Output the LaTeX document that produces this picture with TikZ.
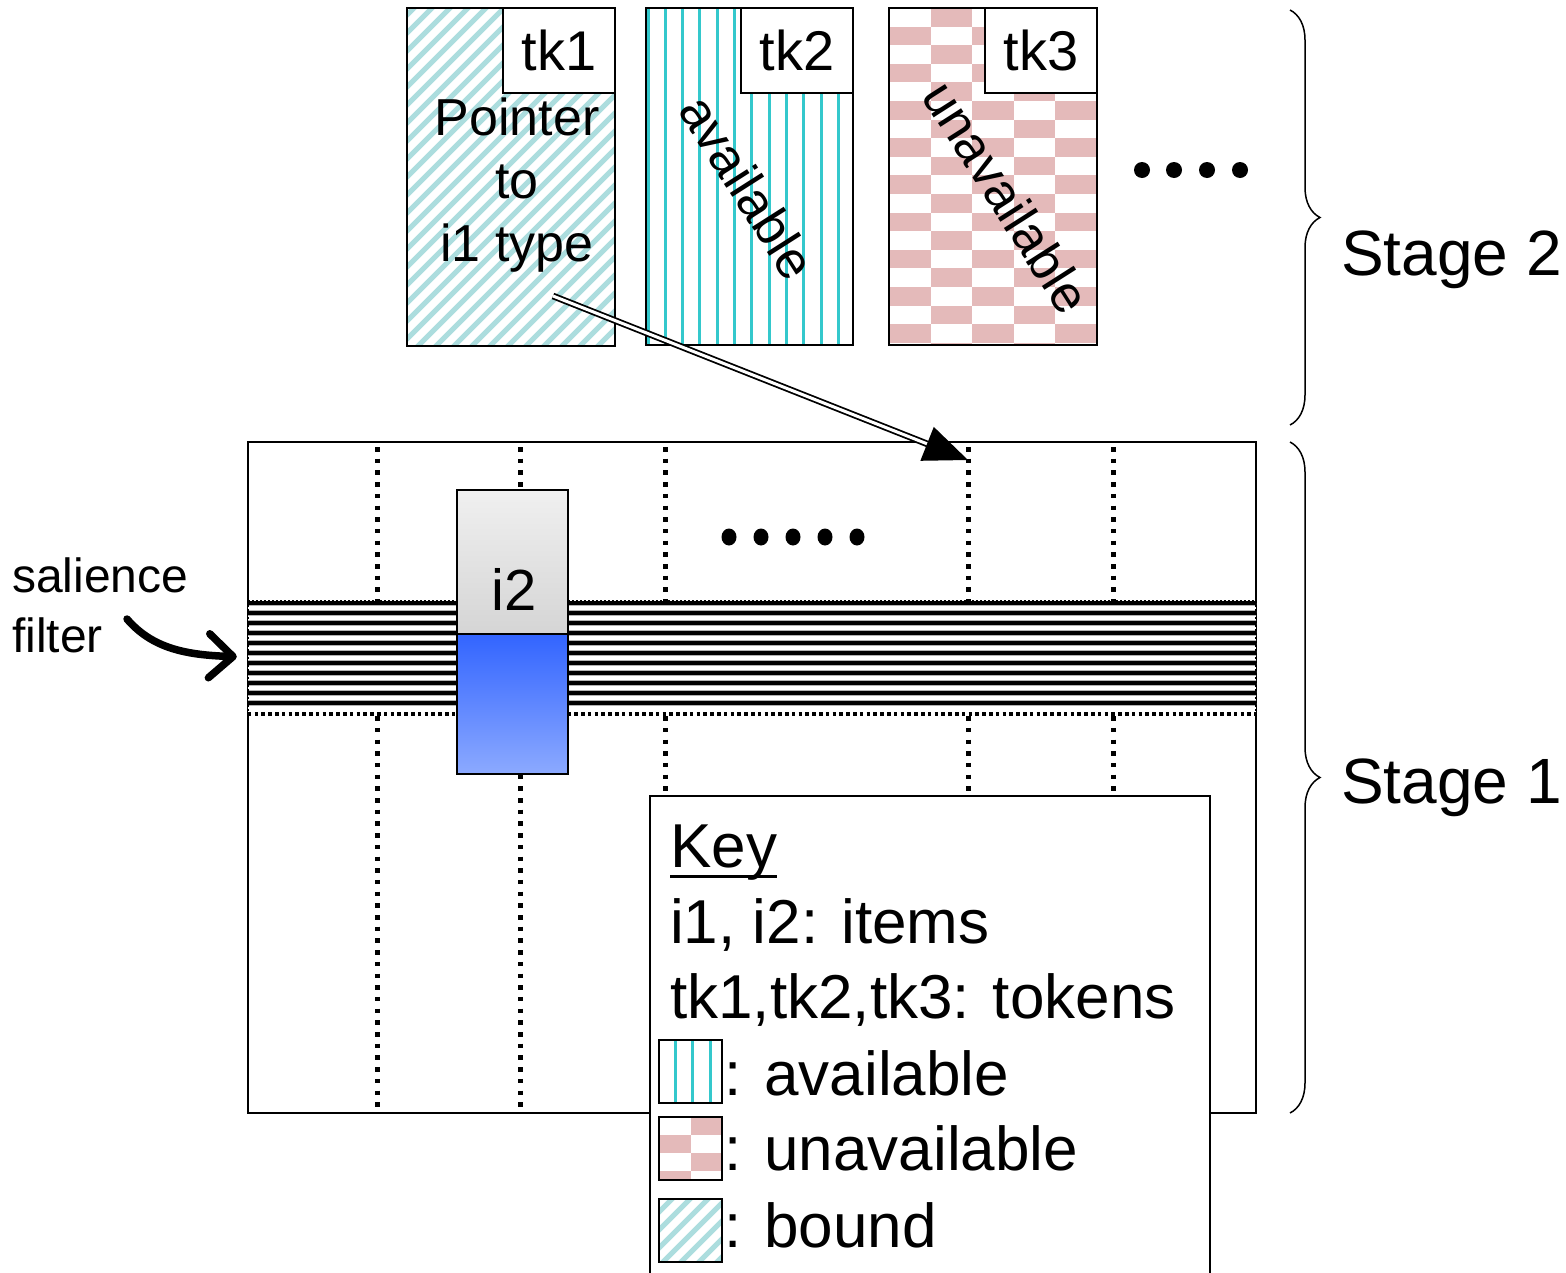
\documentclass[tikz,border=0pt]{standalone}
\usepackage{fontspec}
\setmainfont{Liberation Sans}
\usetikzlibrary{arrows.meta, positioning, decorations.pathreplacing}
\definecolor{boundcol}{RGB}{172,221,222}
\definecolor{availcol}{RGB}{52,200,204}
\definecolor{unavailcol}{RGB}{228,186,186}
\definecolor{itemblue}{RGB}{50,100,255}
\definecolor{itemlight}{RGB}{140,170,255}
\tikzstyle{card} = [rectangle, draw=black, line width=2pt,
minimum width=208pt,
minimum height=337pt,
inner sep=0pt]
\tikzstyle{tag} = [rectangle, draw=black, fill=white, line width=2pt,
minimum width=112pt,
minimum height=85pt,
anchor=north east,
font=\fontsize{56}{60}\selectfont]
\tikzstyle{swatch} = [rectangle, draw=black, line width=1.5pt,
minimum size=63pt, inner sep=0pt]
\tikzstyle{keytext} = [anchor=base west, inner sep=0pt,
font=\fontsize{62}{75}\selectfont]
\tikzstyle{stagetext} = [anchor=base west, inner sep=0pt,
font=\fontsize{64}{70}\selectfont]
\tikzstyle{column} = [line width=5pt, dash pattern=on 4.5pt off 7.2pt]
\tikzstyle{stagebrace} = [decorate, decoration={brace, amplitude=30pt}, line width=1.5pt]
\tikzstyle{pointer} = [double, double distance=3pt, line width=1.8pt,
-{Triangle[length=44pt, width=36pt]}]
\tikzstyle{salarrow} = [line width=7.5pt, line cap=round, shorten >=11pt,
-{Straight Barb[length=24pt, width=44pt, round]}]
% path pictures are drawn round the node centre
\tikzstyle{boundfill} = [path picture={
    \foreach \i in {-640,-622,...,320}
      \draw[boundcol, line width=5pt] (\i,320) -- ++(640,-640);}]
\tikzstyle{availfill} = [path picture={
    \foreach \i in {-101.5,-84.2,...,120}
      \draw[availcol, line width=3pt] (\i,-300) -- (\i,300);}]
\tikzset{unavailfill/.style n args={4}{path picture={
    \foreach \r in {0,...,19}
      \foreach \c in {0,2,4}
        \fill[unavailcol] ({#3+(\c+mod(\r+1,2))*#1},{#4+\r*#2}) rectangle ++(#1,#2);}}}
\tikzstyle{filterfill} = [path picture={
    \foreach \j in {-54,-44,...,50} {
      \draw[gray!60, line width=6.5pt] (-520,\j) -- (520,\j);
      \draw[black, line width=3.8pt] (-520,\j) -- (520,\j);}}]

\begin{document}
\begin{tikzpicture}[x=1pt, y=-1pt]
\useasboundingbox (0,0) rectangle (1566,1272);

% stage 1: item store
\node (store) [rectangle, draw=black, line width=2pt, minimum width=1008pt, minimum height=671pt, inner sep=0pt] at (752,777.5) {};
\foreach \x in {377,520,665,968,1113}
  \draw[column] (\x,447) -- (\x,1110);
\node (filter) [rectangle, fill=white, filterfill, minimum width=1008pt, minimum height=112pt, inner sep=0pt] at (752,657) {};
\draw[line width=1.4pt, dash pattern=on 2pt off 2pt] (filter.north west) -- (filter.north east);
\draw[line width=1.4pt, dash pattern=on 2pt off 2pt] (filter.north west) -- (filter.south west);
\draw[line width=2.5pt, dash pattern=on 2pt off 2pt] (filter.north east) -- (filter.south east);
\draw[line width=3.5pt, dash pattern=on 3.5pt off 3.3pt] ([yshift=-1pt]filter.south west) -- ([yshift=-1pt]filter.south east);

\node (itemtop) [rectangle, draw=black, line width=2pt, top color=gray!12, bottom color=gray!33, minimum width=111pt, minimum height=144pt, inner sep=0pt] at (512.5,562) {};
\node (itembot) [rectangle, draw=black, line width=2pt, top color=itemblue, bottom color=itemlight, minimum width=111pt, minimum height=140pt, inner sep=0pt] at (512.5,704) {};
\node (itemlbl) [anchor=base, inner sep=0pt, font=\fontsize{58}{60}\selectfont] at (514,610) {i2};
\foreach \x in {729,761,793,825,857}
  \fill (\x,537) ellipse (7.5 and 8.5);

\node (salience) [anchor=base west, inner sep=0pt, align=left, font=\fontsize{48}{60}\selectfont] at (12,652) {salience\\filter};
\coordinate (saltail) at (127,619);
\draw[salarrow] (saltail) .. controls (152,648) and (185,655) .. (filter.west);

% key
\node (keybox) [rectangle, draw=black, fill=white, line width=2pt, minimum width=560pt, minimum height=500pt, anchor=north west, inner sep=0pt] at (649,795) {};
\node (keytitle) [keytext] at (670,867) {Key};
\draw[line width=3pt] ([yshift=-9pt]keytitle.base west) -- ([yshift=-9pt]keytitle.base east);
\node (keyitems) [keytext] at (670,943) {i1, i2: items};
\node (keytokens) [keytext] at (670,1018) {tk1,tk2,tk3: tokens};
\node (swavail) [swatch, availfill] at (690.5,1071.5) {};
\node (swunavail) [swatch, unavailfill={32}{18}{-31.5}{-31.5}] at (690.5,1148.5) {};
\node (swbound) [swatch, boundfill] at (690.5,1230.5) {};
\node (keyavail) [keytext] at (724,1095) {: available};
\node (keyunavail) [keytext] at (724,1170) {: unavailable};
\node (keybound) [keytext] at (724,1247) {: bound};

% stage 2: tokens
\node (tkone) [card, boundfill, minimum height=338pt] at (511,177) {};
\node (tktwo) [card, availfill, minimum width=207pt] at (749.5,176.5) {};
\node (tkthree) [card, unavailfill={41.6}{18.6}{-104}{-168.5}] at (993,176.5) {};
\node (tkonetag) [tag] at (tkone.north east) {tk1};
\node (tktwotag) [tag] at (tktwo.north east) {tk2};
\node (tkthreetag) [tag] at (tkthree.north east) {tk3};
\node (ptrtext) [align=center, inner sep=0pt, font=\fontsize{52}{63}\selectfont] at (517,185) {Pointer\\to\\i1 type};
\node (availtext) [rotate=-57.5, inner sep=0pt, font=\fontsize{52}{60}\selectfont] at (748,187) {available};
\node (unavailtext) [rotate=-57.5, inner sep=0pt, font=\fontsize{52}{60}\selectfont] at (1007,197) {unavailable};
\foreach \x in {1142,1174,1207,1240}
  \fill (\x,170) circle (8);

\coordinate (ptrtail) at (553,296);
\coordinate (ptrhead) at (968,460);
\draw[pointer] (ptrtail) -- (ptrhead);

\draw[stagebrace] (1290,10) -- (1290,425);
\draw[stagebrace] (1290,442) -- (1290,1113);
\node (stagetwo) [stagetext] at (1341,275) {Stage 2};
\node (stageone) [stagetext] at (1341,803) {Stage 1};
\end{tikzpicture}
\end{document}
